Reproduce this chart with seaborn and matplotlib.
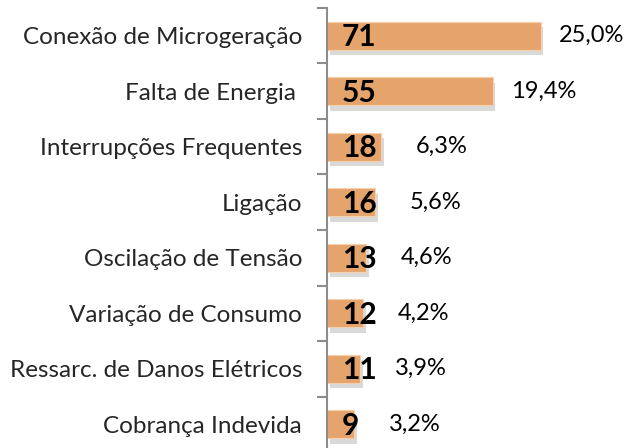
import matplotlib
matplotlib.use("Agg")
import matplotlib.pyplot as plt
import matplotlib.patheffects as pe
import seaborn as sns
import pandas as pd

categorias = ["Conexão de Microgeração", "Falta de Energia ", "Interrupções Frequentes",
              "Ligação", "Oscilação de Tensão", "Variação de Consumo",
              "Ressarc. de Danos Elétricos", "Cobrança Indevida"]
quantidade = [71, 55, 18, 16, 13, 12, 11, 9]
percentual = ["25,0%", "19,4%", "6,3%", "5,6%", "4,6%", "4,2%", "3,9%", "3,2%"]

df = pd.DataFrame({"cat": categorias, "qtd": quantidade})

sns.set_theme(style="white")
plt.rcParams["font.family"] = ["Lato", "DejaVu Sans"]

fig = plt.figure(figsize=(6.28, 4.48), dpi=100)
ax = fig.add_axes([327 / 628, -4 / 448, 301 / 628, 444 / 448])

sns.barplot(data=df, x="qtd", y="cat", orient="h", color="#E5A46C",
            width=0.5, saturation=1, edgecolor="#F6D0AA", linewidth=0.8, ax=ax)

for p in ax.patches:
    p.set_path_effects([pe.SimplePatchShadow(offset=(2, -4), shadow_rgbFace="#a0a0a0", alpha=0.4),
                        pe.Normal()])

for i, (v, pct) in enumerate(zip(quantidade, percentual)):
    ax.text(5.0, i + 0.03, str(v), ha="left", va="center", fontsize=21.5,
            fontweight="bold", color="black")
    xp = v + 6 if v > 30 else v + 11.5
    ax.text(xp, i, pct, ha="left", va="center", fontsize=17, color="black")

ax.set_xlim(0, 100)
ax.set_ylim(7.5, -0.5)
ax.set_xlabel("")
ax.set_ylabel("")
ax.set_xticks([])
ax.set_yticks(range(len(categorias)))
ax.set_yticklabels(categorias, fontsize=17.5)
ax.set_yticks([i - 0.5 for i in range(len(categorias) + 1)], minor=True)
ax.tick_params(axis="y", which="major", length=0, pad=18)
ax.tick_params(axis="y", which="minor", length=7, width=1.5, color="#8c8c8c", direction="out", left=True)

for s in ["top", "right", "bottom"]:
    ax.spines[s].set_visible(False)
ax.spines["left"].set_color("#8c8c8c")
ax.spines["left"].set_linewidth(1.5)

fig.savefig("out.png", dpi=100)
